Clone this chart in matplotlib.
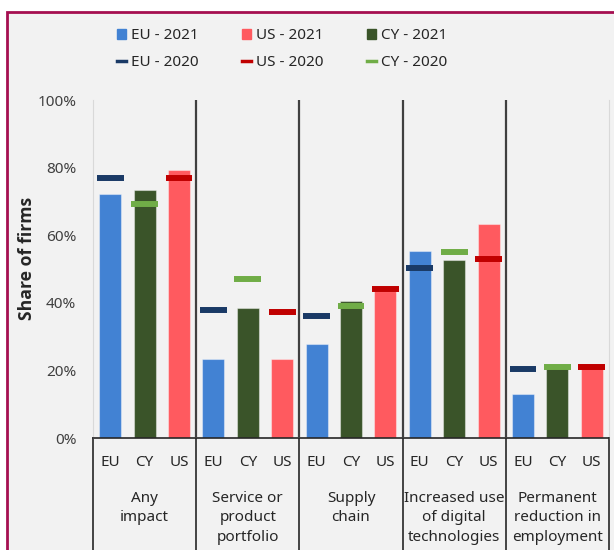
import numpy as np
import matplotlib
matplotlib.use('Agg')
import matplotlib.pyplot as plt
from matplotlib.patches import Patch, Rectangle
from matplotlib.lines import Line2D
import matplotlib.transforms as mtrans

plt.rcParams['font.family'] = ['Noto Sans', 'DejaVu Sans']

# groups on the x axis and the three economies inside each group
groups = ['Any\nimpact', 'Service or\nproduct\nportfolio', 'Supply\nchain',
	'Increased use\nof digital\ntechnologies', 'Permanent\nreduction in\nemployment']
countries = ['EU', 'CY', 'US']

# share of firms (%), bars = 2021, dashes = 2020
eu_2021 = [72.3, 23.4, 27.9, 55.4, 13.0]
cy_2021 = [73.4, 38.5, 40.5, 52.7, 20.6]
us_2021 = [79.3, 23.4, 43.4, 63.4, 20.6]
eu_2020 = [76.9, 37.9, 36.1, 50.3, 20.4]
cy_2020 = [69.2, 47.0, 39.2, 55.0, 21.1]
us_2020 = [76.9, 37.4, 44.1, 53.0, 21.1]

yticks = [0, 20, 40, 60, 80, 100]

c_eu21, c_cy21, c_us21 = '#4282D3', '#3A5429', '#FF5A5F'
c_eu20, c_cy20, c_us20 = '#1A3A66', '#70AD47', '#C00000'
txt = '#262626'

if __name__ == '__main__':
	fig = plt.figure(figsize=(6.14, 5.5), dpi=100)
	fig.patch.set_facecolor('white')
	# magenta frame round the chart
	fig.patches.append(Rectangle((7/614, -0.2), 1.2, 1.2 - 12/550,
		transform=fig.transFigure, facecolor='#F2F2F2', edgecolor='#A50F50', lw=2, zorder=-5))

	ax = fig.add_axes([93/614, 112/550, 516/614, 338/550])
	ax.set_zorder(2)
	ax.set_facecolor('#F2F2F2')

	x = np.arange(len(groups))
	off = 1/3
	bw = 0.213
	lw_ = 0.26

	bar_sets = [(eu_2021, c_eu21), (cy_2021, c_cy21), (us_2021, c_us21)]
	line_sets = [(eu_2020, c_eu20), (cy_2020, c_cy20), (us_2020, c_us20)]
	for k in range(3):
		vals, col = bar_sets[k]
		ax.bar(x + (k-1)*off, vals, width=bw, color=col, edgecolor=(1, 1, 1, 0.4), lw=0.8, zorder=2)
	for k in range(3):
		vals, col = line_sets[k]
		xs = x + (k-1)*off
		ax.hlines(vals, xs - lw_/2, xs + lw_/2, colors=col, lw=4.3, zorder=3)

	ax.set_xlim(-0.5, len(groups) - 0.5)
	ax.set_ylim(0, 100)
	ax.set_yticks(yticks)
	ax.set_yticklabels([str(t) + '%' for t in yticks], fontsize=11, color='#404040')
	ax.tick_params(axis='y', length=0, pad=12)
	ax.set_xticks([])
	ax.set_ylabel('Share of firms', fontsize=12.7, fontweight='bold', color=txt,
		family=['Open Sans', 'DejaVu Sans'])
	ax.yaxis.set_label_coords(-(93 - 36)/516, 0.53)

	for s in ['left', 'right']:
		ax.spines[s].set_color('#D9D9D9')
	ax.spines['top'].set_visible(False)
	ax.spines['bottom'].set_color('#262626')
	ax.spines['bottom'].set_linewidth(1.2)

	# group separators inside the plot
	for b in np.arange(0.5, len(groups) - 1, 1.0):
		ax.axvline(b, color='#404040', lw=1.6, zorder=4)

	# two level x labels in boxes
	tr = mtrans.blended_transform_factory(ax.transData, ax.transAxes)
	for b in np.arange(-0.5, len(groups), 1.0):
		ax.plot([b, b], [0, -0.5], color='#262626', lw=1.2, transform=tr, clip_on=False)
	for i in range(len(groups)):
		for k in range(3):
			ax.text(i + (k-1)*off, -0.072, countries[k], transform=tr, ha='center', va='center',
				fontsize=11, color=txt)
		ax.text(i, -0.156, groups[i], transform=tr, ha='center', va='top',
			fontsize=11, color=txt, linespacing=1.42)

	handles = [Patch(color=c_eu21), Line2D([], [], color=c_eu20, lw=2.5),
		Patch(color=c_us21), Line2D([], [], color=c_us20, lw=2.5),
		Patch(color=c_cy21), Line2D([], [], color=c_cy20, lw=2.5)]
	labels = ['EU - 2021', 'EU - 2020', 'US - 2021', 'US - 2020', 'CY - 2021', 'CY - 2020']
	fig.legend(handles, labels, ncol=3, loc='center', bbox_to_anchor=(282/614, 1 - 49/550),
		frameon=False, fontsize=11, handlelength=0.6, handleheight=0.6, handletextpad=0.3,
		columnspacing=2.85, labelspacing=0.75, labelcolor=txt)

	fig.savefig('out.png', dpi=100, facecolor=fig.get_facecolor())
